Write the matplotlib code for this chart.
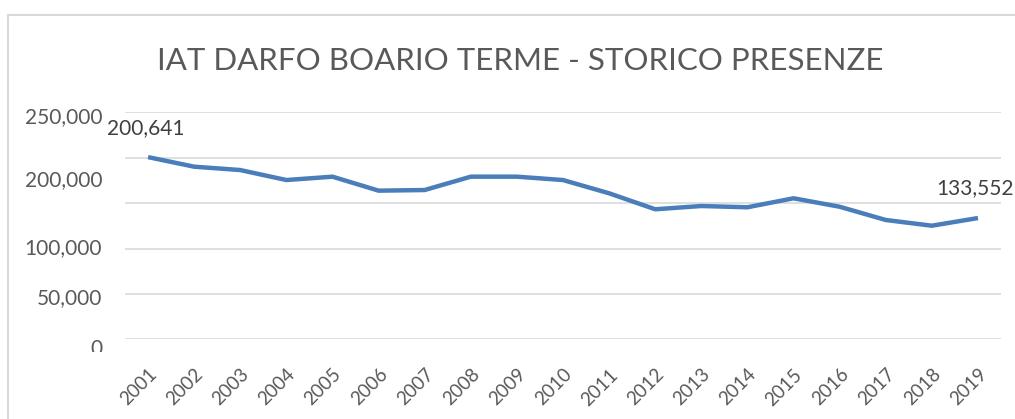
import matplotlib
matplotlib.use("Agg")
import matplotlib.pyplot as plt
from matplotlib.transforms import Bbox, TransformedBbox, blended_transform_factory

plt.rcParams['font.family'] = ['Lato', 'DejaVu Sans']

# dati
anni = [str(a) for a in range(2001, 2020)]
presenze = [200641, 190100, 186400, 175400, 179100, 163700, 164400, 179100, 179100,
            175400, 160800, 143200, 146800, 145400, 155300, 146000, 131400, 125100, 133552]
griglia = [0, 50000, 100000, 150000, 200000, 250000]
etichette_y = ["250,000", "200,000", "100,000", "50,000", "0"]
titolo = "IAT DARFO BOARIO TERME - STORICO PRESENZE"

grigio = "#595959"

fig = plt.figure(figsize=(10.15, 4.19), dpi=100)
ax = fig.add_axes([125/1015, 1 - 339.3/419, 876/1015, (339.3 - 112.3)/419])

x = list(range(len(anni)))
ax.plot(x, presenze, color="#4a7ebb", lw=3.2, solid_capstyle="butt", zorder=3)

ax.set_xlim(-0.5, len(anni) - 0.5)
ax.set_ylim(0, 250000)
ax.set_yticks(griglia)
ax.set_yticklabels([])
ax.tick_params(axis="y", length=0)
ax.grid(axis="y", color="#d9d9d9", lw=1.2)
ax.set_axisbelow(True)
for s in ax.spines.values():
    s.set_visible(False)

ax.set_xticks(x)
ax.set_xticklabels(anni, rotation=45, ha="right", rotation_mode="anchor",
                   fontsize=13.5, color=grigio)
ax.tick_params(axis="x", length=0, pad=19)

# etichette asse y (posizioni come nell'immagine)
tr = blended_transform_factory(ax.transAxes, ax.transData)
pos_y = [244800, 175400, 100500, 45500, -10700]
for lab, py in zip(etichette_y, pos_y):
    t = ax.text(-0.026, py, lab, transform=tr, ha="right", va="center",
                fontsize=15, color=grigio, clip_on=False)
    if lab == "0":
        t.set_clip_box(TransformedBbox(Bbox([[0, 1 - 352/419], [1, 1]]), fig.transFigure))
        t.set_clip_on(True)

# etichette dati
ax.annotate(f"{presenze[0]:,}", (x[0], presenze[0]), xytext=(-2, 14),
            textcoords="offset points", ha="center", va="bottom",
            fontsize=15, color="#404040", annotation_clip=False)
ax.annotate(f"{presenze[-1]:,}", (x[-1], presenze[-1]), xytext=(-30, 14),
            textcoords="offset points", ha="left", va="bottom",
            fontsize=15, color="#404040", annotation_clip=False)

fig.text(520/1015, 1 - 61/419, titolo, ha="center", va="center",
         fontsize=22.5, color=grigio)

# bordo del grafico
fig.add_artist(plt.Line2D([8/1015, 1], [1 - 15/419, 1 - 15/419],
                          transform=fig.transFigure, color="#d9d9d9", lw=1.5))
fig.add_artist(plt.Line2D([8/1015, 8/1015], [0, 1 - 15/419],
                          transform=fig.transFigure, color="#d9d9d9", lw=1.5))

fig.savefig("out.png", dpi=100)
